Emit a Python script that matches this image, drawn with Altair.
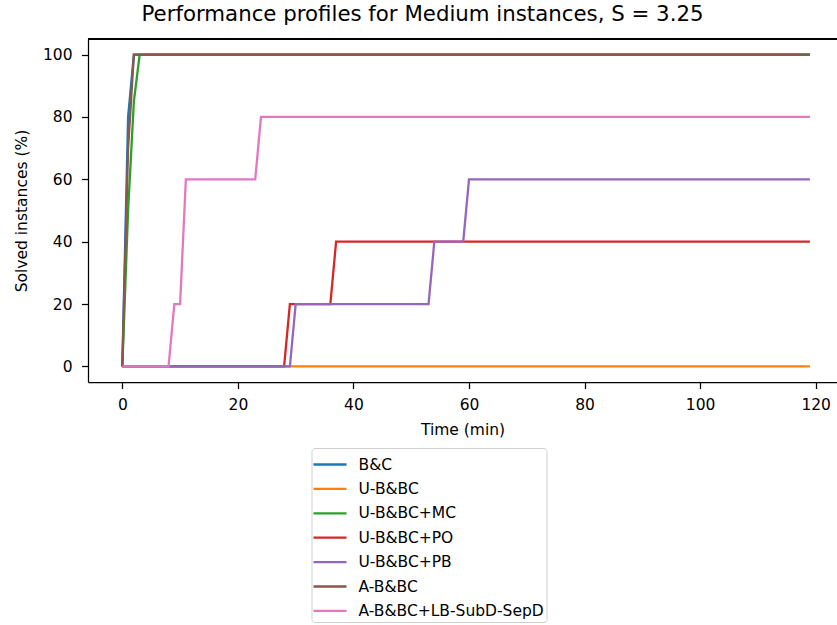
import altair as alt
import pandas as pd

# ---- data (time in minutes, % solved) ----
series_names = ["B&C", "U-B&BC", "U-B&BC+MC", "U-B&BC+PO", "U-B&BC+PB",
                "A-B&BC", "A-B&BC+LB-SubD-SepD"]
series_colors = ["#1f77b4", "#ff7f0e", "#2ca02c", "#d62728", "#9467bd",
                 "#8c564b", "#e377c2"]

bc_t = [0, 1, 2, 119]
bc_v = [0, 80, 100, 100]
ubbc_t = [0, 119]
ubbc_v = [0, 0]
ubbc_mc_t = [0, 1, 2, 3, 119]
ubbc_mc_v = [0, 50, 85, 100, 100]
ubbc_po_t = [0, 28, 29, 36, 37, 119]
ubbc_po_v = [0, 0, 20, 20, 40, 40]
ubbc_pb_t = [0, 29, 30, 53, 54, 59, 60, 119]
ubbc_pb_v = [0, 0, 20, 20, 40, 40, 60, 60]
abbc_t = [0, 1, 2, 119]
abbc_v = [0, 70, 100, 100]
abbc_lb_t = [0, 8, 9, 10, 11, 23, 24, 119]
abbc_lb_v = [0, 0, 20, 20, 60, 60, 80, 80]

x_ticks = [0, 20, 40, 60, 80, 100, 120]
y_ticks = [0, 20, 40, 60, 80, 100]

all_t = [bc_t, ubbc_t, ubbc_mc_t, ubbc_po_t, ubbc_pb_t, abbc_t, abbc_lb_t]
all_v = [bc_v, ubbc_v, ubbc_mc_v, ubbc_po_v, ubbc_pb_v, abbc_v, abbc_lb_v]

rows = []
for k, (name, ts, vs) in enumerate(zip(series_names, all_t, all_v)):
    for i, (t, v) in enumerate(zip(ts, vs)):
        rows.append({"method": name, "order": k, "i": i, "time": t, "solved": v})
df = pd.DataFrame(rows)

W, H = 749, 343
FONT = "DejaVu Sans"

lines = alt.Chart(df).mark_line(strokeWidth=2.3, strokeJoin="miter").encode(
    x=alt.X("time:Q",
            scale=alt.Scale(domain=[-5.94, 123.69], nice=False, zero=False),
            axis=alt.Axis(values=x_ticks, title="Time (min)", grid=False,
                          labelBaseline="alphabetic", labelPadding=20.5,
                          titleY=52, titleBaseline="alphabetic")),
    y=alt.Y("solved:Q",
            scale=alt.Scale(domain=[-5, 105], nice=False, zero=False),
            axis=alt.Axis(values=y_ticks, title="Solved instances (%)", grid=False,
                          labelPadding=9.5, titleX=-67, titleY=H / 2,
                          titleBaseline="middle", titleAngle=270)),
    color=alt.Color("method:N",
                    scale=alt.Scale(domain=series_names, range=series_colors),
                    sort=series_names,
                    legend=alt.Legend(title=None, orient="none",
                                      legendX=223.5, legendY=409,
                                      symbolType="M-1.25,0H1.25", symbolSize=700,
                                      symbolStrokeWidth=2.3, symbolOffset=2,
                                      labelFontSize=15.5, labelFont=FONT,
                                      labelColor="black", labelOffset=14,
                                      rowPadding=1.4, padding=2,
                                      strokeColor="#d0d0d0", fillColor="white",
                                      cornerRadius=3, labelLimit=400)),
    detail="order:Q",
    order="i:Q",
)

top_spine = alt.Chart(df).mark_rule(color="black", strokeWidth=1.25).encode(
    x=alt.value(0), x2=alt.value(W), y=alt.value(0)
)

chart = alt.layer(lines, top_spine).properties(
    width=W, height=H,
    background="white",
    title=alt.TitleParams("Performance profiles for Medium instances, S = 3.25",
                          fontSize=21.3, font=FONT, fontWeight="normal",
                          color="black", anchor="middle", dx=-40, dy=20,
                          baseline="alphabetic", offset=16),
    autosize=alt.AutoSizeParams(type="none"),
    padding={"left": 88, "top": 39, "right": 0, "bottom": 243},
).configure_view(stroke=None).configure_axis(
    labelFont=FONT, titleFont=FONT, labelFontSize=15.5, titleFontSize=15.5,
    labelColor="black", titleColor="black", titleFontWeight="normal",
    domainColor="black", tickColor="black", domainWidth=1.25, tickWidth=1.25,
    tickSize=6.5,
)

chart.save("out.html", embed_options={"renderer": "svg", "actions": False})
